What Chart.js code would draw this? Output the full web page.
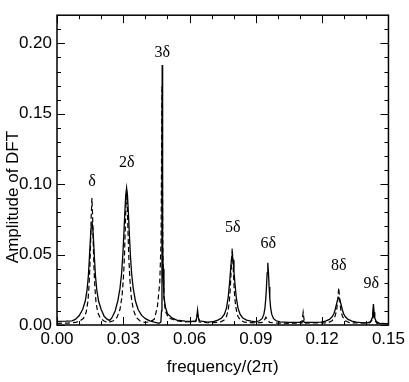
<!DOCTYPE html>
<html>
<head>
<meta charset="utf-8">
<script src="https://cdn.jsdelivr.net/npm/chart.js@4.4.1/dist/chart.umd.min.js"></script>
<style>
  body { margin: 0; background: #fff; }
</style>
</head>
<body>
<canvas id="dft" width="409" height="382"></canvas>
<script>
// solid curve
let solidX = [0, 0.004, 0.0068, 0.0083, 0.0100, 0.0116, 0.0128, 0.0136, 0.0142, 0.0146, 0.0150, 0.0154, 0.0158,
  0.0162, 0.0166, 0.0170, 0.0174, 0.0180, 0.0188, 0.0200, 0.0214, 0.0228, 0.0238,
  0.0248, 0.0263, 0.0275, 0.0285, 0.0292, 0.0298, 0.0303, 0.0307, 0.0311, 0.0315, 0.0319, 0.0323, 0.0327, 0.0332,
  0.0338, 0.0345, 0.0355, 0.0367, 0.0383, 0.040, 0.042, 0.044, 0.0461,
  0.0470, 0.0473, 0.0475, 0.0476, 0.0478, 0.0480, 0.0484, 0.0491, 0.050, 0.052, 0.0542, 0.058, 0.061,
  0.0629, 0.0633, 0.0636, 0.0640, 0.0645, 0.068, 0.0708,
  0.0728, 0.0745, 0.0757, 0.0767, 0.0775, 0.0781, 0.0785, 0.0789, 0.0793, 0.0797, 0.0801, 0.0805, 0.0811, 0.0819,
  0.0829, 0.0841, 0.0858, 0.0878, 0.0899,
  0.0916, 0.0928, 0.0936, 0.0941, 0.0945, 0.0948, 0.0951, 0.0954, 0.0957, 0.0960, 0.0963, 0.0967, 0.0972, 0.0980,
  0.0992, 0.1009, 0.105, 0.1108, 0.1114, 0.112, 0.116, 0.1195,
  0.1215, 0.1233, 0.1245, 0.1253, 0.1259, 0.1265, 0.1270, 0.1275, 0.1280, 0.1285, 0.1291, 0.1297, 0.1305, 0.1317,
  0.1335, 0.1355, 0.1385, 0.1405, 0.1420, 0.1426, 0.1429, 0.1432, 0.1435, 0.1438, 0.1445, 0.1460, 0.15];
let solidY = [0.0026, 0.0027, 0.003, 0.004, 0.0065, 0.011, 0.017, 0.025, 0.035, 0.046, 0.058, 0.069, 0.0736,
  0.069, 0.058, 0.046, 0.035, 0.025, 0.017, 0.011, 0.006, 0.004, 0.0033,
  0.005, 0.01, 0.017, 0.026, 0.036, 0.050, 0.066, 0.080, 0.092, 0.0974, 0.092, 0.080, 0.066, 0.050,
  0.036, 0.026, 0.017, 0.011, 0.0068, 0.0045, 0.003, 0.002, 0.0012,
  0.002, 0.01, 0.06, 0.1846, 0.06, 0.04, 0.02, 0.0125, 0.008, 0.005, 0.0035, 0.0028, 0.0025,
  0.003, 0.006, 0.0105, 0.005, 0.003, 0.002, 0.0024,
  0.0035, 0.005, 0.0075, 0.012, 0.02, 0.03, 0.038, 0.046, 0.05, 0.046, 0.038, 0.03, 0.02, 0.012,
  0.0075, 0.005, 0.0035, 0.0028, 0.0022,
  0.003, 0.0045, 0.0075, 0.012, 0.019, 0.027, 0.037, 0.0442, 0.037, 0.027, 0.019, 0.012, 0.0075, 0.0045,
  0.003, 0.0022, 0.0018, 0.0018, 0.003, 0.0018, 0.0018, 0.002,
  0.0028, 0.004, 0.0058, 0.008, 0.011, 0.015, 0.018, 0.0195, 0.018, 0.015, 0.011, 0.008, 0.0058, 0.004,
  0.0028, 0.002, 0.0015, 0.0015, 0.0025, 0.005, 0.009, 0.0148, 0.009, 0.005, 0.0025, 0.0012, 0.001];

// dashed curve
let dashX = [0, 0.005, 0.0083, 0.0103, 0.0120, 0.0132, 0.0140, 0.0145, 0.0149, 0.0152, 0.0155, 0.0158, 0.0161,
  0.0164, 0.0167, 0.0171, 0.0176, 0.0184, 0.0196, 0.0213, 0.0233,
  0.0255, 0.0272, 0.0285, 0.0294, 0.0300, 0.0305, 0.0309, 0.0312, 0.0315, 0.0318, 0.0321, 0.0325, 0.0330, 0.0336,
  0.0345, 0.0358, 0.0375, 0.0395, 0.042,
  0.044, 0.0454, 0.0465, 0.0471, 0.0475, 0.0479, 0.0484, 0.049, 0.0505, 0.054, 0.058, 0.0628, 0.0636, 0.0644,
  0.068, 0.0738,
  0.0755, 0.0767, 0.0775, 0.0780, 0.0784, 0.0787, 0.0790, 0.0793, 0.0796, 0.0799, 0.0802, 0.0806, 0.0811, 0.0819,
  0.0831, 0.0848, 0.090, 0.0935, 0.0945, 0.0952, 0.0962, 0.100, 0.105, 0.1108, 0.1114, 0.112, 0.1225,
  0.1245, 0.1258, 0.1266, 0.1270, 0.1275, 0.1280, 0.1284, 0.1292, 0.1305, 0.1325, 0.1415, 0.1428, 0.1432, 0.1436,
  0.1448, 0.15];
let dashY = [0.0012, 0.0014, 0.0018, 0.0028, 0.0048, 0.009, 0.017, 0.028, 0.042, 0.058, 0.078, 0.0902, 0.078,
  0.058, 0.042, 0.028, 0.017, 0.009, 0.0048, 0.0028, 0.0018,
  0.003, 0.0055, 0.011, 0.02, 0.032, 0.048, 0.068, 0.085, 0.095, 0.085, 0.068, 0.048, 0.032, 0.02,
  0.011, 0.0055, 0.003, 0.0019, 0.0022,
  0.004, 0.0125, 0.03, 0.06, 0.17, 0.05, 0.02, 0.01, 0.005, 0.003, 0.0022, 0.0025, 0.008, 0.0022,
  0.0016, 0.002,
  0.0033, 0.006, 0.011, 0.017, 0.025, 0.035, 0.046, 0.0544, 0.046, 0.035, 0.025, 0.017, 0.011, 0.006,
  0.0033, 0.002, 0.0014, 0.002, 0.0055, 0.004, 0.0018, 0.0013, 0.0012, 0.0014, 0.009, 0.0014, 0.0015,
  0.003, 0.006, 0.011, 0.017, 0.0265, 0.017, 0.011, 0.006, 0.003, 0.0015, 0.0015, 0.004, 0.01, 0.004,
  0.0012, 0.001];

// peak labels
let peakLabels = ['δ', '2δ', '3δ', '5δ', '6δ', '8δ', '9δ'];
let peakLabelX = [0.0158, 0.0316, 0.0476, 0.0795, 0.0956, 0.1275, 0.1422];
let peakLabelY = [0.102, 0.115, 0.193, 0.069, 0.058, 0.042, 0.029];

// ticks
let xMajorTicks = [0, 0.03, 0.06, 0.09, 0.12, 0.15];
let xMinorTicks = [0.01, 0.02, 0.04, 0.05, 0.07, 0.08, 0.1, 0.11, 0.13, 0.14];
let yMajorTicks = [0, 0.05, 0.1, 0.15, 0.2];
let yMinorTicks = [0.01, 0.02, 0.03, 0.04, 0.06, 0.07, 0.08, 0.09, 0.11, 0.12, 0.13, 0.14, 0.16, 0.17, 0.18, 0.19, 0.21];

let toPoints = (xs, ys) => xs.map((x, i) => ({ x: x, y: ys[i] }));

let framePlugin = {
  id: 'frame',
  afterDraw: (chart) => {
    let ctx = chart.ctx;
    let a = chart.chartArea;
    let sx = chart.scales.x, sy = chart.scales.y;
    ctx.save();
    ctx.strokeStyle = '#000';
    ctx.lineWidth = 1.5;
    ctx.strokeRect(a.left, a.top, a.right - a.left, a.bottom - a.top);
    ctx.lineWidth = 1;
    ctx.beginPath();
    let xt = (vals, len) => vals.forEach(v => {
      let p = Math.round(sx.getPixelForValue(v)) + 0.5;
      ctx.moveTo(p, a.bottom); ctx.lineTo(p, a.bottom - len);
      ctx.moveTo(p, a.top); ctx.lineTo(p, a.top + len);
    });
    let yt = (vals, len) => vals.forEach(v => {
      let p = Math.round(sy.getPixelForValue(v)) + 0.5;
      ctx.moveTo(a.left, p); ctx.lineTo(a.left + len, p);
      ctx.moveTo(a.right, p); ctx.lineTo(a.right - len, p);
    });
    xt(xMajorTicks, 8); xt(xMinorTicks, 4);
    yt(yMajorTicks, 8); yt(yMinorTicks, 4);
    ctx.stroke();

    // peak labels
    ctx.fillStyle = '#000';
    ctx.font = '16px "Liberation Serif"';
    ctx.textAlign = 'center';
    ctx.textBaseline = 'middle';
    peakLabels.forEach((t, i) => {
      ctx.fillText(t, sx.getPixelForValue(peakLabelX[i]), sy.getPixelForValue(peakLabelY[i]));
    });

    // axis titles
    ctx.font = '17px "Liberation Sans"';
    ctx.fillText('frequency/(2π)', (a.left + a.right) / 2, 367);
    ctx.translate(13, 197);
    ctx.rotate(-Math.PI / 2);
    ctx.fillText('Amplitude of DFT', 0, 0);
    ctx.restore();
  }
};

new Chart(document.getElementById('dft'), {
  type: 'line',
  data: {
    datasets: [
      {
        label: 'solid',
        data: toPoints(solidX, solidY),
        borderColor: '#000',
        borderWidth: 1.3,
        pointRadius: 0,
        fill: false,
        tension: 0
      },
      {
        label: 'dashed',
        data: toPoints(dashX, dashY),
        borderColor: '#000',
        borderWidth: 1.2,
        borderDash: [5, 3],
        pointRadius: 0,
        fill: false,
        tension: 0
      }
    ]
  },
  options: {
    responsive: false,
    animation: false,
    layout: { padding: { top: 1, right: 17, left: 0, bottom: 0 } },
    plugins: {
      legend: { display: false },
      tooltip: { enabled: false }
    },
    scales: {
      x: {
        type: 'linear',
        min: 0,
        max: 0.15,
        afterFit: (s) => { s.height = 57; },
        afterBuildTicks: (s) => { s.ticks = xMajorTicks.map(v => ({ value: v })); },
        grid: { display: false, drawTicks: false },
        border: { display: false },
        ticks: {
          padding: 4,
          color: '#000',
          maxRotation: 0,
          font: { family: 'Liberation Sans', size: 17 },
          callback: (v) => v.toFixed(2)
        }
      },
      y: {
        min: 0,
        max: 0.22,
        afterFit: (s) => { s.width = 57; },
        afterBuildTicks: (s) => { s.ticks = yMajorTicks.map(v => ({ value: v })); },
        grid: { display: false, drawTicks: false },
        border: { display: false },
        ticks: {
          padding: 5,
          color: '#000',
          font: { family: 'Liberation Sans', size: 17 },
          callback: (v) => v.toFixed(2)
        }
      }
    }
  },
  plugins: [framePlugin]
});
</script>
</body>
</html>
